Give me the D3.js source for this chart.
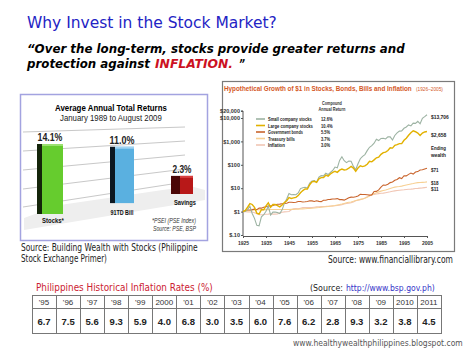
<!DOCTYPE html>
<html><head><meta charset="utf-8">
<script src="https://cdn.jsdelivr.net/npm/d3@7"></script>
<style>body{margin:0;background:#fff}svg{display:block}</style>
</head><body><div id="c"></div>
<script>
// ---------- DATA ----------
const barCategories = ["Stocks*", "91TD Bill", "Savings"];
const barValues = [14.1, 11.0, 2.3];

const growthYears = d3.range(1925, 2006);
const smallStocks = [1,1.003,1.224,1.710,0.832,0.515,0.259,0.245,0.594,0.738,1.035,1.705,0.716,0.951,0.954,0.905,0.823,1.190,2.242,3.446,5.983,5.287,5.335,5.223,6.254,9.608,10.424,10.949,10.257,16.537,20.159,21.094,18.016,29.523,34.347,33.721,43.474,38.290,46.970,57.418,79.901,74.204,153.859,221.594,149.507,123.769,145.021,140.752,85.019,62.484,110.862,181.778,230.829,272.883,402.347,560.055,657.883,840.860,1225.337,1081.304,1335.042,1371.337,1271.309,1575.306,1565.034,1144.093,1787.463,2311.426,2754.526,2821.016,3633.559,4117.203,5054.549,4600.017,6066.019,5886,7249,5648,9698,11418,13706];
const largeStocks = [1,1.116,1.535,2.204,2.018,1.516,0.859,0.789,1.214,1.197,1.767,2.367,1.538,2.016,2.008,1.812,1.602,1.927,2.427,2.906,3.965,3.645,3.853,4.065,4.829,6.360,7.888,9.336,9.244,14.108,18.561,19.778,17.646,25.298,28.322,28.455,36.106,32.954,40.469,47.139,53.008,47.674,59.104,65.642,60.059,62.465,71.406,84.956,72.500,53.311,73.144,90.584,84.077,89.592,106.113,140.514,133.616,162.223,198.745,211.199,279.117,330.671,347.967,406.458,534.455,517.499,675.592,727.412,800.078,810.538,1113.918,1370.946,1828.326,2350.892,2845.629,2586.524,2279.127,1775.341,2284.785,2533.117,2657.560];
const govBonds = [1,1.078,1.174,1.175,1.215,1.272,1.204,1.407,1.406,1.547,1.624,1.746,1.750,1.847,1.957,2.076,2.095,2.162,2.207,2.269,2.514,2.511,2.445,2.529,2.692,2.693,2.587,2.617,2.713,2.907,2.870,2.710,2.912,2.734,2.673,3.041,3.070,3.282,3.322,3.438,3.463,3.589,3.259,3.251,3.086,3.460,3.917,4.140,4.094,4.272,4.665,5.447,5.410,5.346,5.280,5.071,5.166,7.251,7.298,8.427,11.037,13.745,13.372,14.665,17.322,18.392,21.942,23.709,28.034,25.856,34.044,33.727,39.074,44.178,40.218,48.856,51.174,59.702,61.174,66.173,70.852];
const tBills = [1,1.033,1.065,1.103,1.155,1.183,1.196,1.207,1.211,1.213,1.215,1.217,1.221,1.221,1.221,1.221,1.222,1.225,1.229,1.233,1.237,1.242,1.248,1.258,1.272,1.287,1.306,1.328,1.352,1.364,1.385,1.419,1.464,1.486,1.530,1.571,1.604,1.648,1.700,1.760,1.829,1.916,1.997,2.101,2.239,2.385,2.490,2.585,2.764,2.986,3.159,3.319,3.489,3.740,4.128,4.592,5.267,5.822,6.335,6.959,7.496,7.957,8.428,9.023,9.788,10.526,11.104,11.500,11.838,12.296,12.994,13.658,14.360,15.071,15.772,16.694,17.333,17.609,17.786,18.010,18.561];
const inflationIdx = [1,0.985,0.965,0.955,0.957,0.899,0.814,0.730,0.734,0.749,0.771,0.780,0.804,0.782,0.778,0.786,0.862,0.942,0.972,0.992,1.015,1.199,1.307,1.343,1.318,1.395,1.477,1.490,1.499,1.492,1.497,1.540,1.586,1.614,1.638,1.663,1.675,1.696,1.724,1.745,1.777,1.836,1.892,1.981,2.102,2.218,2.292,2.371,2.579,2.894,3.097,3.246,3.466,3.778,4.281,4.812,5.242,5.445,5.652,5.875,6.097,6.166,6.438,6.722,7.034,7.464,7.693,7.916,8.133,8.351,8.563,8.847,8.998,9.143,9.389,9.707,9.857,10.091,10.281,10.616,10.978];

const seriesNames = ["Small company stocks", "Large company stocks", "Government bonds", "Treasury bills", "Inflation"];
const seriesReturns = ["12.6%", "10.4%", "5.5%", "3.7%", "3.0%"];
const endLabels = ["$13,706", "$2,658", "$71", "$18", "$11"];

const yTickValues = [20000, 10000, 1000, 100, 10, 1, 0.1];
const yTickLabels = ["$20,000", "$10,000", "$1,000", "$100", "$10", "$1", "$.10"];
const xTickValues = [1925, 1935, 1945, 1955, 1965, 1975, 1985, 1995, 2005];

const inflationYears = ["'95","'96","'97","'98","'99","2000","'01","'02","'03","'04","'05","'06","'07","'08","'09","2010","2011"];
const inflationRates = [6.7,7.5,5.6,9.3,5.9,4.0,6.8,3.0,3.5,6.0,7.6,6.2,2.8,9.3,3.2,3.8,4.5];

// ---------- DRAW ----------
const W = 474, H = 355;
const svg = d3.select("#c").append("svg").attr("width", W).attr("height", H);
svg.append("rect").attr("width", W).attr("height", H).attr("fill", "#fff");

// text helper: if o.w is given, the text is scaled horizontally to exactly that width
function T(g, x, y, s, o = {}) {
  const t = g.append("text").text(s)
    .attr("font-family", o.ff || "DejaVu Sans").attr("font-size", o.fs || 10)
    .attr("fill", o.fill || "#000");
  if (o.fw) t.attr("font-weight", o.fw);
  if (o.fst) t.attr("font-style", o.fst);
  if (o.w) {
    const len = t.node().getComputedTextLength() || o.w;
    const k = o.w / len;
    const x0 = o.anchor === "middle" ? x - o.w / 2 : (o.anchor === "end" ? x - o.w : x);
    t.attr("transform", `translate(${x0},${y}) scale(${k},1)`);
  } else {
    t.attr("x", x).attr("y", y);
    if (o.anchor) t.attr("text-anchor", o.anchor);
  }
  return t;
}

// Header
T(svg, 27, 28, "Why Invest in the Stock Market?", {fs: 15, fill: "#2323c4", w: 250});
T(svg, 27, 53, "\u201cOver the long-term, stocks provide greater returns and", {fs: 13, fw: "bold", fst: "italic", w: 378});
T(svg, 27, 68, "protection against", {fs: 13, fw: "bold", fst: "italic", w: 123});
T(svg, 155, 68, "INFLATION.", {fs: 13, fw: "bold", fst: "italic", fill: "#cc1122", w: 78});
T(svg, 239, 68, "\u201d", {fs: 13, fw: "bold", fst: "italic", w: 6});

// ---------- Left bar chart ----------
const L = svg.append("g");
L.append("rect").attr("x", 20.5).attr("y", 94.5).attr("width", 187).attr("height", 146)
  .attr("fill", "#fff").attr("stroke", "#a3a3e0").attr("stroke-width", 1.5);
T(L, 111, 111, "Average Annual Total Returns", {fs: 9, fw: "bold", anchor: "middle", w: 112, ff: "Liberation Sans"});
T(L, 111, 121, "January 1989 to August 2009", {fs: 8.5, anchor: "middle", w: 102, ff: "Liberation Sans", fill: "#222"});

// perspective grid lines
const gridL = [132, 151, 170, 189, 207];
const gridR = [127, 141, 155, 169, 182];
gridL.forEach((y, i) => {
  L.append("line").attr("x1", 23).attr("y1", y).attr("x2", 185).attr("y2", gridR[i])
    .attr("stroke", "#c8c8c8").attr("stroke-width", 1);
});
// floor shadow
L.append("path").attr("d", "M24,218 L60,205 L190,186 L205,190 L205,200 L120,214 L24,230 Z")
  .attr("fill", "#eeeeee");

const bx = d3.scaleOrdinal().domain(barCategories).range([37, 110, 171]);
const bw = d3.scaleOrdinal().domain(barCategories).range([26, 24, 22]);
const floorY = d3.scaleLinear().domain([37, 171]).range([214, 194]);
const hScale = d3.scaleLinear().domain([0, 14.1]).range([8, 70]);
const fronts = ["#66cc2e", "#5ab0e0", "#b81818"];
const sides = ["#14250a", "#0c1822", "#4a0606"];
const tops = ["#9be070", "#9fd3f2", "#d84040"];
const lblY = [223, 215, 205];
barCategories.forEach((c, i) => {
  const x = bx(c), w = bw(c), base = floorY(x), top = base - hScale(barValues[i]);
  const sw = i === 2 ? 9 : 5;
  L.append("rect").attr("x", x).attr("y", top).attr("width", sw).attr("height", base - top).attr("fill", sides[i]);
  L.append("rect").attr("x", x + sw).attr("y", top).attr("width", w - sw).attr("height", base - top).attr("fill", fronts[i]);
  L.append("rect").attr("x", x + sw).attr("y", top).attr("width", w - sw).attr("height", 2).attr("fill", tops[i]);
  T(L, x + w / 2, top - 3, barValues[i].toFixed(1) + "%", {fs: 10, fw: "bold", anchor: "middle", w: i === 2 ? 19 : 25, ff: "Liberation Sans", fill: "#222"});
  T(L, x + w / 2 + (i === 0 ? 3 : (i === 2 ? 3 : 0)), lblY[i], c, {fs: 7, fw: "bold", anchor: "middle", w: i === 1 ? 23 : 22, ff: "Liberation Sans", fill: "#111"});
});
T(L, 196, 223, "*PSEI (PSE Index)", {fs: 6.5, fst: "italic", anchor: "end", w: 44, ff: "Liberation Sans", fill: "#333"});
T(L, 196, 231, "Source:  PSE, BSP", {fs: 6.5, fst: "italic", anchor: "end", w: 43, ff: "Liberation Sans", fill: "#333"});

T(svg, 21, 251, "Source: Building Wealth with Stocks (Philippine", {fs: 10, w: 177, fill: "#222"});
T(svg, 21, 262, "Stock Exchange Primer)", {fs: 10, w: 86, fill: "#222"});

// ---------- Right line chart ----------
const R = svg.append("g");
R.append("rect").attr("x", 222.5).attr("y", 81.5).attr("width", 232).attr("height", 170)
  .attr("fill", "#fff").attr("stroke", "#7a7a7a").attr("stroke-width", 1.2);
const NF = "Liberation Sans";
T(R, 224, 91, "Hypothetical Growth of $1 in Stocks, Bonds, Bills and Inflation", {fs: 8, fw: "bold", ff: NF, fill: "#d4581f", w: 188});
T(R, 416, 91, "(1926\u20132005)", {fs: 6, ff: NF, fill: "#d4581f", w: 27});

const xS = d3.scaleLinear().domain([1925, 2005]).range([243, 427]);
const yS = d3.scaleLog().domain([0.1, 10000]).range([235, 118]);

// axes
const yAx = R.append("g").attr("transform", "translate(243,0)")
  .call(d3.axisLeft(yS).tickValues(yTickValues).tickSize(2).tickFormat((d, i) => yTickLabels[i]));
yAx.select(".domain").attr("stroke", "#555").attr("d", `M-2,${yS(20000)}H0V${yS(0.1) + 1}`);
yAx.selectAll("line").attr("stroke", "#555");
yAx.selectAll("text").attr("font-family", NF).attr("font-size", 5.5).attr("font-weight", "bold").attr("fill", "#333").attr("x", -3);

const xAx = R.append("g").attr("transform", `translate(0,${yS(0.1) + 1})`)
  .call(d3.axisBottom(xS).tickValues(xTickValues).tickSize(2).tickFormat(d3.format("d")));
xAx.select(".domain").attr("stroke", "#555");
xAx.selectAll("line").attr("stroke", "#555");
xAx.selectAll("text").attr("font-family", NF).attr("font-size", 5).attr("font-weight", "bold").attr("fill", "#333").attr("y", 5);

const seriesData = [smallStocks, largeStocks, govBonds, tBills, inflationIdx];
const seriesColors = ["#9db3a3", "#e2b100", "#c9642c", "#f7d093", "#f1c6b4"];
const drawOrder = [4, 3, 2, 0, 1];
const line = d3.line().x((d, i) => xS(growthYears[i])).y(d => yS(d));
drawOrder.forEach(k => {
  R.append("path").datum(seriesData[k]).attr("d", line).attr("fill", "none")
    .attr("stroke", seriesColors[k]).attr("stroke-width", k === 1 ? 1.4 : 1.1);
});

// legend
T(R, 332, 105, "Compound", {fs: 6, fw: "bold", ff: NF, anchor: "middle", w: 20, fill: "#333"});
T(R, 332, 111, "Annual Return", {fs: 6, fw: "bold", ff: NF, anchor: "middle", w: 27, fill: "#333"});
const legY = [121, 127.5, 134, 140.5, 147];
const legW = [44, 45, 35, 27, 17];
seriesNames.forEach((n, i) => {
  R.append("line").attr("x1", 256).attr("x2", 265).attr("y1", legY[i] - 2).attr("y2", legY[i] - 2)
    .attr("stroke", seriesColors[i]).attr("stroke-width", 1.6);
  T(R, 268, legY[i], n, {fs: 5.5, fw: "bold", ff: NF, w: legW[i], fill: "#222"});
  T(R, 321, legY[i], seriesReturns[i], {fs: 5.5, fw: "bold", ff: NF, w: seriesReturns[i].length * 2.3, fill: "#222"});
});

// ending wealth labels
const endY = [119, 137, 172, 185, 191];
endLabels.forEach((s, i) => {
  T(R, 431, endY[i], s, {fs: 6, fw: "bold", ff: NF, w: s.length * 2.55, fill: "#222"});
});
T(R, 431, 150, "Ending", {fs: 6, fw: "bold", ff: NF, w: 15, fill: "#222"});
T(R, 431, 157, "wealth", {fs: 6, fw: "bold", ff: NF, w: 15, fill: "#222"});

T(svg, 328, 263, "Source: www.financiallibrary.com", {fs: 10, w: 125, fill: "#222"});

// ---------- Inflation table ----------
T(svg, 36, 291, "Philippines Historical Inflation Rates (%)", {fs: 10.5, fill: "#cc2233", w: 177});
T(svg, 310, 291, "(Source:", {fs: 8.5, fill: "#222", w: 33});
T(svg, 346, 291, "http://www.bsp.gov.ph)", {fs: 8.5, fill: "#3535c8", w: 89});

const tx = d3.scaleBand().domain(inflationYears).range([32, 441]);
const tTop = 295, tMid = 308, tBot = 333;
const tb = svg.append("g");
tb.append("rect").attr("x", 32.5).attr("y", tTop + 0.5).attr("width", 409).attr("height", tBot - tTop)
  .attr("fill", "none").attr("stroke", "#777");
tb.append("line").attr("x1", 32).attr("x2", 441).attr("y1", tMid + 0.5).attr("y2", tMid + 0.5).attr("stroke", "#777");
inflationYears.forEach((yr, i) => {
  if (i > 0) tb.append("line").attr("x1", Math.round(tx(yr)) + 0.5).attr("x2", Math.round(tx(yr)) + 0.5)
    .attr("y1", tTop).attr("y2", tBot).attr("stroke", "#777");
  const cx = tx(yr) + tx.bandwidth() / 2;
  T(tb, cx, 305, yr, {fs: 8, anchor: "middle", fill: "#333", ff: "Liberation Sans"});
  T(tb, cx, 325, inflationRates[i].toFixed(1), {fs: 9.5, fw: "bold", anchor: "middle", fill: "#222", ff: "Liberation Sans"});
});

T(svg, 293, 346, "www.healthywealthphilippines.blogspot.com", {fs: 8.5, fill: "#555", w: 170});
</script>
</body></html>
